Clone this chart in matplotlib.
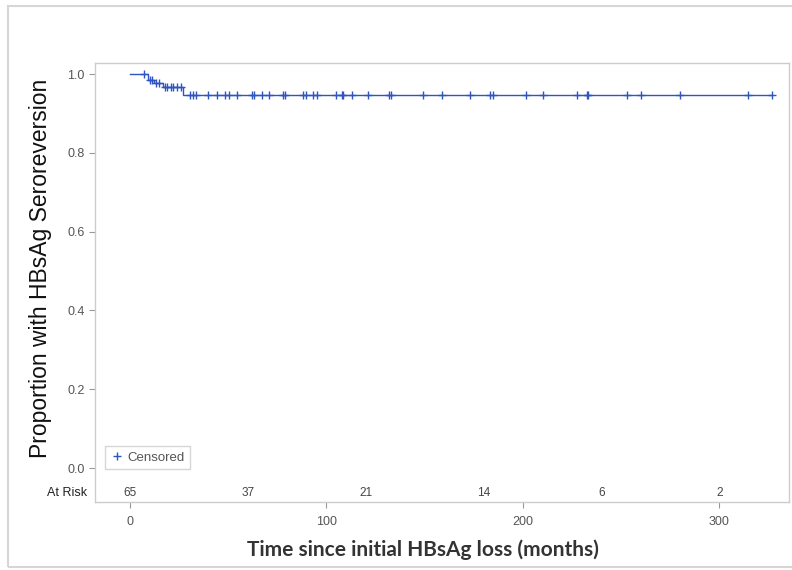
import numpy as np
import matplotlib
matplotlib.use("Agg")
from matplotlib import pyplot as plt
from matplotlib.patches import Rectangle
from matplotlib.lines import Line2D

# Kaplan-Meier step levels
step_t = [0, 9, 12, 17, 27]
step_s = [1.0, 0.985, 0.976, 0.966, 0.946]
t_end = 327

# censored observations (months)
censor_t = [7, 10, 11, 13, 15, 18, 19, 21, 22, 24, 26,
            30.5, 32, 33.6, 39.7, 44.3, 48.3, 50.4, 54.5, 62, 63, 67, 71,
            78, 79, 88, 89.6, 93, 95, 105, 108, 108.5, 113, 121, 132, 133,
            149, 159, 173, 183, 185, 201.5, 210, 227.5, 232.6, 233, 253,
            260, 280, 314.5, 327]

# number at risk
risk_t = [0, 60, 120, 180, 240, 300]
risk_n = [65, 37, 21, 14, 6, 2]

blue = '#2f55c0'
gray = '#555555'

fig = plt.figure(figsize=(7.92, 5.70), dpi=100)
fig.patches.append(Rectangle((8 / 792, 0.005), 1, 1 - 6 / 570 - 0.005, transform=fig.transFigure,
                             fill=False, edgecolor='#d6d6d6', linewidth=1.5))

ax = fig.add_axes([95 / 792, 1 - 502 / 570, 694 / 792, 439 / 570])

# survival curve
xs = list(step_t) + [t_end]
ys = list(step_s) + [step_s[-1]]
ax.step(xs, ys, where='post', color=blue, linewidth=1.0)

# censor marks sit on the curve
idx = np.searchsorted(step_t, censor_t, side='right') - 1
censor_s = np.array(step_s)[idx]
ax.plot(censor_t, censor_s, linestyle='none', marker='+', color=blue,
        markersize=6, markeredgewidth=1.0)

# at-risk row inside the plot
for t, n in zip(risk_t, risk_n):
    ax.text(t, -0.063, str(n), ha='center', va='center', fontsize=8.5,
            color='#444444', family='Liberation Sans')
ax.text(-0.012, -0.063, 'At Risk', transform=ax.get_yaxis_transform(), ha='right',
        va='center', fontsize=9, color='#222222', family='Liberation Sans')

ax.set_xlim(-17.8, 335.4)
ax.set_ylim(-0.0863, 1.028)
ax.set_xticks([0, 100, 200, 300])
ax.set_yticks([0.0, 0.2, 0.4, 0.6, 0.8, 1.0])
ax.set_yticklabels(['0.0', '0.2', '0.4', '0.6', '0.8', '1.0'])
ax.tick_params(axis='both', colors='#999999', labelcolor=gray, labelsize=9, length=4, width=0.8)
ax.tick_params(axis='x', pad=6)
for lab in ax.get_xticklabels() + ax.get_yticklabels():
    lab.set_family('Liberation Sans')
for sp in ax.spines.values():
    sp.set_color('#cccccc')
    sp.set_linewidth(1.0)

ax.set_ylabel('Proportion with HBsAg Seroreversion', fontsize=16.5, family='Liberation Sans',
              color='#111111')
ax.yaxis.set_label_coords(-0.062, 0.533)
ax.set_xlabel('Time since initial HBsAg loss (months)', fontsize=15, family='Lato',
              fontweight='bold', color='#333333')
ax.xaxis.set_label_coords(0.473, -0.085)

handle = Line2D([], [], linestyle='none', marker='+', color=blue, markersize=6)
leg = ax.legend([handle], ['Censored'], loc='lower left', bbox_to_anchor=(0.005, 0.06),
                frameon=True, fancybox=False, handletextpad=0.3,
                handlelength=1.0, borderpad=0.4, prop={'family': 'Liberation Sans', 'size': 9.5})
leg.get_frame().set_edgecolor('#cccccc')
for txt in leg.get_texts():
    txt.set_color(gray)

plt.savefig('out.png', dpi=100)
